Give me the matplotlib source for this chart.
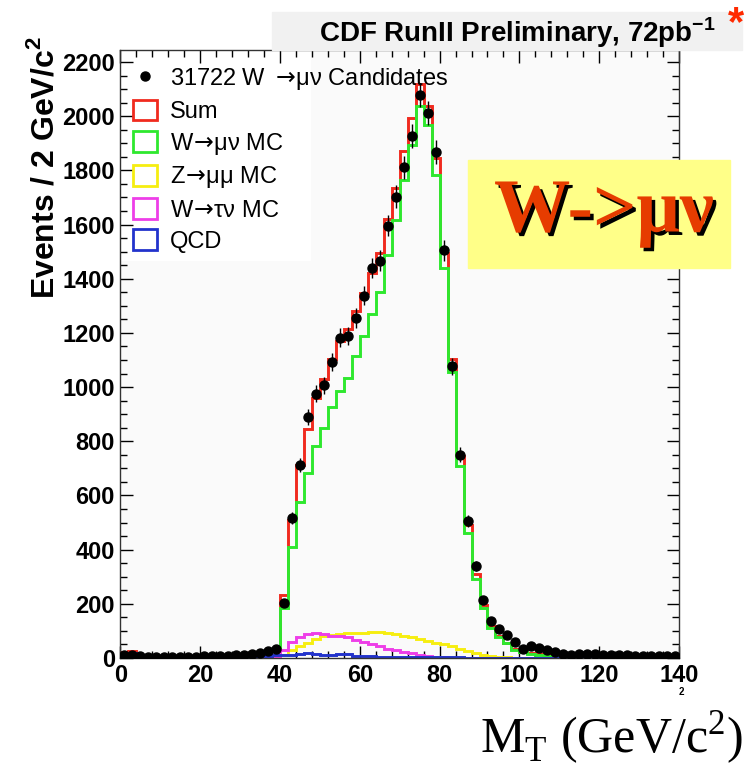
import numpy as np
import matplotlib
matplotlib.use("Agg")
import matplotlib.pyplot as plt
import matplotlib.patheffects as pe
from matplotlib.patches import Patch, Rectangle
from matplotlib.lines import Line2D
from matplotlib.ticker import MultipleLocator

plt.rcParams['font.family'] = ['Liberation Sans Narrow', 'Liberation Sans', 'DejaVu Sans']
plt.rcParams['mathtext.default'] = 'rm'
plt.rcParams['mathtext.fontset'] = 'dejavusans'

# 2 GeV/c^2 bins from 0 to 140
bin_edges = np.arange(0, 141, 2)

data_counts = [12, 10, 7, 5, 4, 4, 4, 4, 4, 5, 6, 7, 8, 9, 10, 11, 15, 19, 24, 32,
               204, 516, 713, 888, 975, 1006, 1093, 1183, 1188, 1255,
               1338, 1440, 1467, 1596, 1703, 1811, 1927, 2078, 2011, 1868,
               1505, 1076, 750, 506, 341, 214, 137, 106, 86, 60,
               34, 44, 37, 30, 22, 16, 11, 13, 13, 13, 12, 11, 11, 10, 9, 9, 9, 8, 7, 6]

w_mu_nu = [0] * 20 + [
    183, 408, 577, 684, 782, 850, 926, 987, 1034, 1113,
    1188, 1269, 1351, 1488, 1616, 1765, 1895, 2036, 1966, 1783,
    1440, 1055, 707, 461, 291, 184, 110, 79, 54, 30,
    22, 16, 12, 9, 7, 5, 4, 3, 2, 2, 2, 1, 1, 1, 1, 1, 1, 1, 1, 1]

z_mu_mu = [0] * 20 + [
    10, 30, 44, 56, 70, 80, 85, 89, 92, 93,
    94, 95, 95, 93, 88, 82, 76, 69, 62, 56,
    50, 44, 35, 27, 18, 10, 6, 3, 2, 1] + [1, 1] + [0] * 18

w_tau_nu = [8, 10, 3, 2, 1, 1, 1, 1, 1, 1, 1, 1, 1, 1, 1, 1, 1, 1, 1, 1,
            30, 60, 78, 88, 92, 88, 82, 80, 76, 66,
            60, 52, 45, 34, 28, 22, 18, 10, 6, 3,
            2, 1, 1, 1, 0, 0, 0, 0, 0, 0] + [0] * 20

qcd = [15, 17, 5, 4, 4, 3, 3, 3, 3, 3, 4, 4, 5, 5, 6, 6, 7, 8, 9, 10,
       10, 12, 14, 17, 16, 12, 12, 14, 13, 8,
       6, 6, 5, 4, 4, 3, 3, 3, 2, 2,
       2, 2, 2, 1, 1, 1, 1, 1, 1, 1] + [1] * 20

total = np.array(w_mu_nu) + np.array(z_mu_mu) + np.array(w_tau_nu) + np.array(qcd)
centers = (bin_edges[:-1] + bin_edges[1:]) / 2
counts = np.array(data_counts, dtype=float)

fig = plt.figure(figsize=(7.52, 7.66), dpi=100)
ax = fig.add_axes([0.160, 0.141, 0.743, 0.794])
ax.set_facecolor('#fafafa')

# white legend pad, top left of the frame
ax.add_patch(Rectangle((0.0, 0.655), 0.34, 0.345, transform=ax.transAxes,
                       color='white', zorder=0.5))

lw = 2.1
ax.stairs(total, bin_edges, color='#f02a1e', lw=lw, zorder=2)
ax.stairs(w_mu_nu, bin_edges, color='#2ee82e', lw=lw, zorder=2)
ax.stairs(z_mu_mu, bin_edges, color='#f6ee10', lw=lw, zorder=2)
ax.stairs(w_tau_nu, bin_edges, color='#ee3ee8', lw=lw, zorder=2)
ax.stairs(qcd, bin_edges, color='#2233cc', lw=lw, zorder=2)
ax.errorbar(centers, counts, yerr=np.sqrt(counts), fmt='o', color='black',
            ms=6.5, elinewidth=1.0, capsize=0, zorder=5)

ax.set_xlim(0, 140)
ax.set_ylim(0, 2245)
ax.xaxis.set_major_locator(MultipleLocator(20))
ax.xaxis.set_minor_locator(MultipleLocator(4))
ax.yaxis.set_major_locator(MultipleLocator(200))
ax.yaxis.set_minor_locator(MultipleLocator(50))
ax.tick_params(which='both', direction='in', top=True, right=True, width=1)
ax.tick_params(which='major', length=9)
ax.tick_params(which='minor', length=5)
ax.tick_params(axis='both', labelsize=17, pad=4)
for lab in ax.get_xticklabels() + ax.get_yticklabels():
    lab.set_fontweight('bold')
for s in ax.spines.values():
    s.set_linewidth(1.0)
    s.set_color('#333333')

handles = [Line2D([], [], marker='o', color='black', ls='none', ms=6.5),
           Patch(facecolor='none', edgecolor='#f02a1e', lw=2),
           Patch(facecolor='none', edgecolor='#2ee82e', lw=2),
           Patch(facecolor='none', edgecolor='#f6ee10', lw=2),
           Patch(facecolor='none', edgecolor='#ee3ee8', lw=2),
           Patch(facecolor='none', edgecolor='#2233cc', lw=2)]
labels = [r'31722 W $\rightarrow\!$μν Candidates', 'Sum', r'W$\!\rightarrow\!$μν MC',
          r'Z$\!\rightarrow\!$μμ MC', r'W$\!\rightarrow\!$τν MC', 'QCD']
leg = ax.legend(handles, labels, loc='upper left', bbox_to_anchor=(0.0, 0.995),
                prop={'family': ['Liberation Sans', 'DejaVu Sans'], 'size': 17},
                frameon=False, labelspacing=0.33, handlelength=1.0,
                handleheight=0.95, handletextpad=0.55, borderpad=0.35,
                borderaxespad=0.2)
leg.set_zorder(4)

fig.text(45 / 752, 1 - 36 / 766, r'Events / 2 GeV/c$^{\mathregular{2}}$', rotation=90,
         ha='center', va='top', fontsize=23, fontweight='bold',
         family=['Liberation Sans', 'DejaVu Sans'])

# title strip
fig.patches.append(Rectangle((272 / 752, 1 - 50 / 766), 470 / 752, 38 / 766,
                             transform=fig.transFigure, color='#f1f1f1', zorder=0))
fig.text(716 / 752, 1 - 33 / 766, r'CDF RunII Preliminary, 72pb$^{\mathregular{-1}}$',
         ha='right', va='center', fontsize=20, fontweight='bold')
fig.text(736 / 752, 1 - 24 / 766, '*', ha='center', va='center', fontsize=30,
         fontweight='bold', color='#ff2a00')

# W->mu nu label box
fig.patches.append(Rectangle((468 / 752, 1 - 268 / 766), 262 / 752, 108 / 766,
                             transform=fig.transFigure, color='#ffff88', zorder=3))
fig.text(604 / 752, 1 - 213 / 766, 'W->\u03bc\u03bd', ha='center', va='center',
         fontsize=55, fontweight='bold', color='#e63c00',
         family=['Liberation Serif', 'DejaVu Serif'], zorder=4,
         path_effects=[pe.withSimplePatchShadow(offset=(2.5, -2.5), shadow_rgbFace='black', alpha=1)])

fig.text(743 / 752, 1 - 738 / 766, r'M$_{\mathregular{T}}$ (GeV/c$^{\mathregular{2}}$)', ha='right',
         va='center', fontsize=36, family=['Liberation Serif', 'DejaVu Serif'])
fig.text(681 / 752, 1 - 692 / 766, '2', ha='center', va='center', fontsize=7,
         fontweight='bold')

fig.savefig('out.png', dpi=100)
